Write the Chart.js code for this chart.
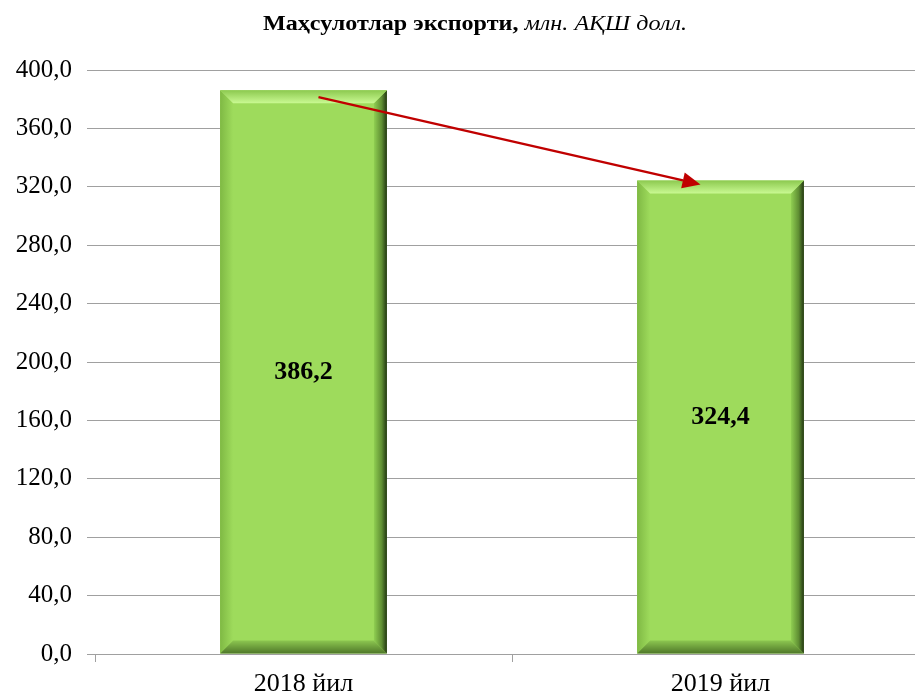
<!DOCTYPE html>
<html>
<head>
<meta charset="utf-8">
<script src="https://cdn.jsdelivr.net/npm/chart.js@4.4.1/dist/chart.umd.min.js"></script>
<style>
  html, body { margin: 0; padding: 0; background: #fff; overflow: hidden; }
</style>
</head>
<body>
<canvas id="myCanvas" width="930" height="697"></canvas>
<script>
const categories = ['2018 йил', '2019 йил'];
const exportValues = [386.2, 324.4];
const yTicks = [0, 40, 80, 120, 160, 200, 240, 280, 320, 360, 400];
const titleBold = 'Маҳсулотлар экспорти, ';
const titleItalic = 'млн. АҚШ долл.';

const serif = "'Liberation Serif', 'Times New Roman', serif";

function fmt(v) {
  return v.toFixed(1).replace('.', ',');
}

// excel-ish bevel on each bar
const bevelPlugin = {
  id: 'bevel',
  afterDatasetsDraw(chart) {
    const ctx = chart.ctx;
    const b = 13;
    chart.getDatasetMeta(0).data.forEach(bar => {
      const L = bar.x - bar.width / 2, R = bar.x + bar.width / 2;
      const T = bar.y, B = bar.base;
      let g;
      ctx.save();
      // left
      g = ctx.createLinearGradient(L, 0, L + b, 0);
      g.addColorStop(0, '#7fb944'); g.addColorStop(1, '#9edb5c');
      ctx.fillStyle = g;
      ctx.beginPath(); ctx.moveTo(L, T); ctx.lineTo(L + b, T + b); ctx.lineTo(L + b, B - b); ctx.lineTo(L, B); ctx.closePath(); ctx.fill();
      // bottom
      g = ctx.createLinearGradient(0, B - b, 0, B);
      g.addColorStop(0, '#8cc650'); g.addColorStop(1, '#4f7829');
      ctx.fillStyle = g;
      ctx.beginPath(); ctx.moveTo(L, B); ctx.lineTo(L + b, B - b); ctx.lineTo(R - b, B - b); ctx.lineTo(R, B); ctx.closePath(); ctx.fill();
      // right
      g = ctx.createLinearGradient(R - b, 0, R, 0);
      g.addColorStop(0, '#90cf52'); g.addColorStop(0.6, '#5f8e33'); g.addColorStop(1, '#223612');
      ctx.fillStyle = g;
      ctx.beginPath(); ctx.moveTo(R, T); ctx.lineTo(R, B); ctx.lineTo(R - b, B - b); ctx.lineTo(R - b, T + b); ctx.closePath(); ctx.fill();
      // top
      g = ctx.createLinearGradient(0, T, 0, T + b);
      g.addColorStop(0, '#8cc94f'); g.addColorStop(1, '#c9f992');
      ctx.fillStyle = g;
      ctx.beginPath(); ctx.moveTo(L, T); ctx.lineTo(R, T); ctx.lineTo(R - b, T + b); ctx.lineTo(L + b, T + b); ctx.closePath(); ctx.fill();
      ctx.restore();
    });
  }
};

const labelsPlugin = {
  id: 'labelsAndArrow',
  afterDraw(chart) {
    const ctx = chart.ctx;
    const bars = chart.getDatasetMeta(0).data;
    ctx.save();
    // value labels
    ctx.fillStyle = '#000';
    ctx.font = 'bold 26px ' + serif;
    ctx.textAlign = 'center';
    ctx.textBaseline = 'middle';
    bars.forEach((bar, i) => {
      ctx.fillText(fmt(exportValues[i]), bar.x, (bar.y + bar.base) / 2);
    });

    // trend arrow
    const x1 = bars[0].x + 15, y1 = bars[0].y + 7;
    const x2 = bars[1].x - 20, y2 = bars[1].y + 4;
    const ang = Math.atan2(y2 - y1, x2 - x1);
    const head = 18, hw = 8;
    ctx.strokeStyle = '#c00000';
    ctx.fillStyle = '#c00000';
    ctx.lineWidth = 2.5;
    ctx.beginPath();
    ctx.moveTo(x1, y1);
    ctx.lineTo(x2 - Math.cos(ang) * head, y2 - Math.sin(ang) * head);
    ctx.stroke();
    ctx.beginPath();
    ctx.moveTo(x2, y2);
    ctx.lineTo(x2 - Math.cos(ang) * head + Math.sin(ang) * hw, y2 - Math.sin(ang) * head - Math.cos(ang) * hw);
    ctx.lineTo(x2 - Math.cos(ang) * head - Math.sin(ang) * hw, y2 - Math.sin(ang) * head + Math.cos(ang) * hw);
    ctx.closePath();
    ctx.fill();
    ctx.restore();

    // title, bold + italic parts (the original is a bit stretched sideways)
    ctx.save();
    ctx.fillStyle = '#000';
    ctx.textAlign = 'left';
    ctx.textBaseline = 'alphabetic';
    ctx.font = 'bold 20px ' + serif;
    const w1 = ctx.measureText(titleBold).width;
    ctx.font = 'italic 20px ' + serif;
    const w2 = ctx.measureText(titleItalic).width;
    const sx = 424 / (w1 + w2);
    ctx.translate(475, 30);
    ctx.scale(sx, 1);
    const tx = -(w1 + w2) / 2;
    ctx.font = 'bold 20px ' + serif;
    ctx.fillText(titleBold, tx, 0);
    ctx.font = 'italic 20px ' + serif;
    ctx.fillText(titleItalic, tx + w1, 0);
    ctx.restore();
  }
};

const ctx = document.getElementById('myCanvas').getContext('2d');
new Chart(ctx, {
  type: 'bar',
  data: {
    labels: categories,
    datasets: [{
      label: 'Маҳсулотлар экспорти',
      data: exportValues,
      backgroundColor: '#9edb5c',
      borderWidth: 0,
      barPercentage: 0.4,
      categoryPercentage: 1.0
    }]
  },
  options: {
    responsive: false,
    animation: false,
    layout: { padding: { top: 70, right: 1, left: 0, bottom: 0 } },
    plugins: {
      legend: { display: false },
      title: { display: false },
      tooltip: { enabled: false }
    },
    scales: {
      x: {
        grid: { offset: true, drawOnChartArea: false, color: '#a0a0a0', tickLength: 8 },
        border: { display: false },
        ticks: { color: '#000', font: { family: serif, size: 26 }, padding: 7 },
        afterFit(scale) { scale.height = 43; }
      },
      y: {
        min: 0,
        max: 400,
        afterBuildTicks(scale) { scale.ticks = yTicks.map(v => ({ value: v })); },
        grid: { color: '#a0a0a0', tickLength: 8 },
        border: { display: false },
        ticks: {
          color: '#000',
          font: { family: serif, size: 25 },
          padding: 15,
          callback: v => fmt(v)
        },
        afterFit(scale) { scale.width = 95; }
      }
    }
  },
  plugins: [bevelPlugin, labelsPlugin]
});
</script>
</body>
</html>
